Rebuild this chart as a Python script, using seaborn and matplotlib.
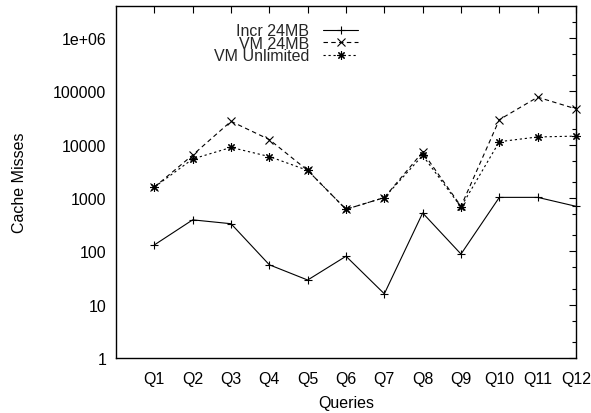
import matplotlib
matplotlib.use("Agg")
import matplotlib.pyplot as plt
import matplotlib.ticker as mticker
import seaborn as sns
import pandas as pd
import numpy as np

queries = ["Q1", "Q2", "Q3", "Q4", "Q5", "Q6", "Q7", "Q8", "Q9", "Q10", "Q11", "Q12"]
incr_24mb = [132, 390, 330, 56, 29, 81, 16, 525, 89, 1030, 1030, 700]
vm_24mb = [1600, 6400, 27500, 12500, 3300, 615, 1020, 7300, 700, 29500, 78000, 47000]
vm_unlimited = [1600, 5400, 8900, 6000, 3300, 615, 1020, 6300, 680, 11400, 14000, 14500]
series_names = ["Incr 24MB", "VM 24MB", "VM Unlimited"]
y_ticks = [1, 10, 100, 1000, 10000, 100000, 1000000]
y_ticklabels = ["1", "10", "100", "1000", "10000", "100000", "1e+06"]

rows = []
for name, vals in zip(series_names, [incr_24mb, vm_24mb, vm_unlimited]):
    for i, v in enumerate(vals):
        rows.append({"pos": i + 1, "Cache Misses": v, "series": name})
df = pd.DataFrame(rows)

sns.set_theme(style="white")
plt.rcParams["font.family"] = ["Liberation Sans", "DejaVu Sans"]
plt.rcParams["font.size"] = 11.5

fig = plt.figure(figsize=(5.91, 4.14), dpi=100)
ax = fig.add_axes([116 / 591, 1 - 359 / 414, 460 / 591, 352 / 414])

sns.lineplot(
    data=df, x="pos", y="Cache Misses", hue="series", style="series",
    palette={n: "black" for n in series_names},
    markers={"Incr 24MB": "+", "VM 24MB": "x", "VM Unlimited": (8, 2, 0)},
    dashes={"Incr 24MB": "", "VM 24MB": (4, 3), "VM Unlimited": (2, 2.5)},
    linewidth=0.8, markersize=6, markeredgecolor="black", markeredgewidth=0.8,
    clip_on=False, ax=ax, legend="full",
)

ax.set_yscale("log")
ax.set_ylim(1, 4e6)
ax.set_xlim(0, 12)
ax.set_xticks(range(1, 13))
ax.set_xticklabels(queries)
ax.set_yticks(y_ticks)
ax.set_yticklabels(y_ticklabels)
ax.yaxis.set_minor_locator(mticker.LogLocator(base=10, subs=[2, 5], numticks=20))
ax.yaxis.set_minor_formatter(mticker.NullFormatter())

ax.tick_params(axis="both", which="both", direction="in", top=True, right=True,
               color="black", labelcolor="black", labelsize=11.5)
ax.tick_params(axis="both", which="major", length=5.2, width=0.8)
ax.tick_params(axis="both", which="minor", length=2.6, width=0.8)
ax.tick_params(axis="y", which="major", pad=7)
ax.tick_params(axis="x", which="major", pad=9.5)

for sp in ax.spines.values():
    sp.set_color("black")
    sp.set_linewidth(1.0)

ax.set_xlabel("Queries", fontsize=11.5, color="black", labelpad=6)
ax.set_ylabel("Cache Misses", fontsize=11.5, color="black", labelpad=18.5)

old = ax.get_legend()
handles = old.legend_handles
labels = [t.get_text() for t in old.get_texts()]
old.remove()
for h in handles:
    h.set_color("black")
    h.set_markeredgecolor("black")
    h.set_markeredgewidth(0.8)
    h.set_linewidth(0.8)
leg = ax.legend(handles, labels, loc="upper right", bbox_to_anchor=(0.527, 0.951),
                frameon=False, markerfirst=False, handlelength=2.2, handletextpad=0.9,
                labelspacing=-0.16, borderpad=0, borderaxespad=0, fontsize=11.5)

fig.savefig("out.png", dpi=100)
